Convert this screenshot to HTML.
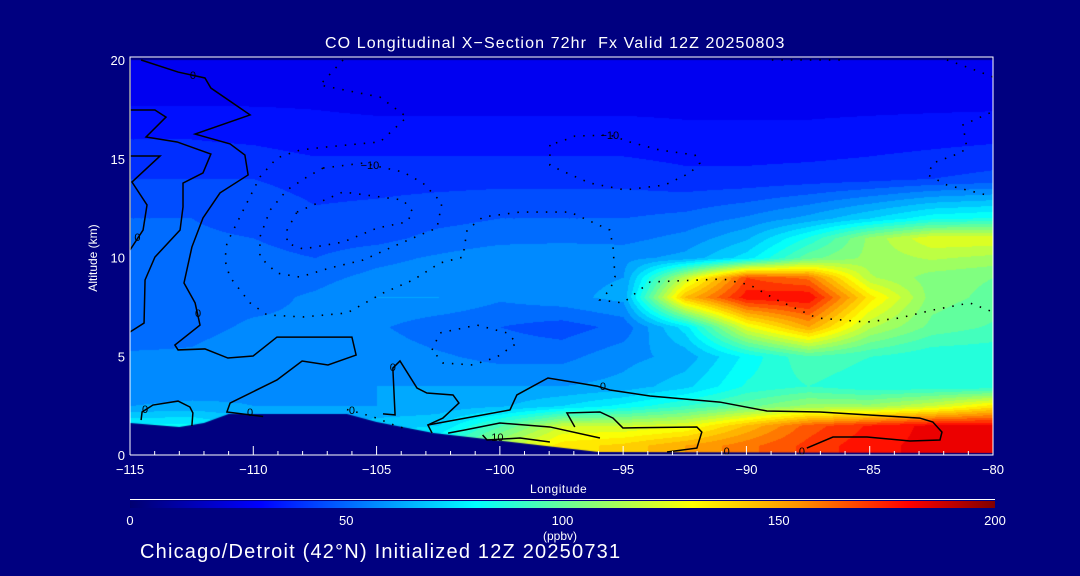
<!DOCTYPE html>
<html><head><meta charset="utf-8"><style>
html,body{margin:0;padding:0;background:#000080;}
#root{position:relative;width:1080px;height:576px;background:#000080;overflow:hidden;font-family:"Liberation Sans",sans-serif;color:#fff;}
.t{position:absolute;white-space:nowrap;color:#fff;}
canvas,svg{position:absolute;left:0;top:0;}
</style></head><body>
<div id="root">
<canvas id="cv" width="1080" height="576"></canvas>
<svg id="sv" width="1080" height="576"></svg>
<div class="t" style="left:325px;top:35px;font-size:16px;letter-spacing:1.1px;">CO Longitudinal X−Section 72hr&nbsp; Fx Valid 12Z 20250803</div>
<div class="t" style="left:53px;top:251px;font-size:12px;transform:rotate(-90deg);width:80px;text-align:center;">Altitude (km)</div>
<div class="t" style="left:530px;top:482px;font-size:12px;letter-spacing:0.5px;">Longitude</div>
<div style="position:absolute;left:130px;top:501px;width:865px;height:7px;background:linear-gradient(to right,#000070 0%,#0000ff 15%,#0080ff 27.5%,#00ffff 40%,#80ff80 52.5%,#ffff00 65%,#ff9000 77.5%,#ff0000 90%,#800000 100%);"></div>
<div style="position:absolute;left:130px;top:499px;width:865px;height:1px;background:#fff;"></div>
<div class="t" style="left:543px;top:529px;font-size:12px;">(ppbv)</div>
<div class="t" style="left:140px;top:541px;font-size:20px;letter-spacing:1.2px;">Chicago/Detroit (42°N) Initialized 12Z 20250731</div>
</div>
<script>
// ---- data ----
const lons=[-115,-112.5,-110,-107.5,-105,-102.5,-100,-97.5,-95,-92.5,-90,-87.5,-85,-82.5,-80];
const alts=[20,18,16,14,12,11,10,9,8,6.5,5,3.5,2.5,1.5,0.5];
const row20=[26,26,26,26,26,26,26,26,26,26,26,26,26,26,26];
const row18=[29,29,29,29,28,28,28,28,28,28,28,28,28,28,28];
const row16=[36,36,35,33,33,33,33,33,33,32,32,32,33,34,35];
const row14=[42,42,42,40,40,40,40,40,40,38,38,39,40,42,44];
const row12=[48,48,46,43,44,46,48,48,48,50,55,62,72,82,85];
const row11=[49,49,48,45,46,50,52,52,52,56,65,85,110,125,125];
const row10=[50,50,50,48,52,55,58,60,58,62,75,100,110,115,112];
const row9=[51,51,51,52,56,58,57,58,60,118,168,160,115,105,102];
const row8=[52,52,52,55,60,60,55,58,62,145,178,180,135,105,100];
const row65=[50,52,55,55,55,50,48,45,50,75,125,150,115,100,95];
const row5=[55,55,58,58,58,55,52,52,58,62,80,95,90,85,85];
const row35=[55,55,58,58,60,60,60,60,62,70,85,90,85,85,85];
const row25=[60,62,60,60,60,62,65,72,80,90,100,110,110,120,135];
const row15=[80,80,70,65,70,72,95,120,120,125,145,165,175,182,182];
const row05=[80,80,70,70,70,85,115,135,140,150,160,170,178,182,182];
const grid=[row20,row18,row16,row14,row12,row11,row10,row9,row8,row65,row5,row35,row25,row15,row05];
// terrain surface altitude (km)
const terrLon=[-115,-113,-112,-111,-106.2,-105,-102.7,-96,-80];
const terrAlt=[1.62,1.42,1.62,2.08,2.08,1.67,1.11,0.15,0.1];
const xTicks=[-115,-110,-105,-100,-95,-90,-85,-80];
const xTickLabels=["−115","−110","−105","−100","−95","−90","−85","−80"];
const yTicks=[0,5,10,15,20];
const cbTicks=[0,50,100,150,200];
// contour lines (lon, alt pairs)
const solid=[
 [[-115,20],[-115,10.4]],
 [[-114.55,20],[-113.05,19.39],[-111.96,19.09],[-111.72,18.58],[-110.13,17.22],[-112.36,16.25],[-110.94,15.75],[-110.34,15.19],[-110.21,14.18],[-111.35,13.27],[-112.04,12.0],[-112.49,10.53],[-112.81,8.71],[-112.36,7.7],[-112.16,6.58],[-113.18,5.57],[-113.05,5.32],[-111.96,5.37],[-111.03,4.91],[-110.01,5.01],[-109.04,5.97],[-106.0,5.97],[-105.83,5.06],[-106.97,4.56],[-108.02,4.76],[-109.04,3.8],[-110.94,2.63],[-111.07,2.18],[-109.6,1.95]],
 [[-115,15.14],[-113.78,15.14],[-114.92,13.82],[-114.31,12.66],[-114.47,11.39],[-115,10.38]],
 [[-115,17.47],[-113.99,17.47],[-113.54,17.11],[-114.35,16.1],[-113.09,15.85],[-111.72,15.24],[-112.04,14.28],[-112.85,13.77],[-112.85,12.56],[-112.97,11.39],[-113.99,10.02],[-114.39,8.86],[-114.43,6.68],[-115,6.23]],
 [[-114.55,1.77],[-114.51,2.18],[-114.07,2.53],[-113.05,2.73],[-112.57,2.43],[-112.45,2.13],[-112.49,1.47]],
 [[-104.74,2.08],[-104.25,2.03],[-104.34,4.4],[-104.05,4.76],[-103.36,3.39],[-102.96,3.14],[-101.9,3.04],[-101.66,2.63],[-102.31,1.87],[-102.92,1.52],[-102.75,1.11]],
 [[-102.92,1.52],[-99.59,2.28],[-99.31,3.04],[-98.05,3.9],[-96.06,3.49],[-95.54,3.29],[-93.91,2.99],[-91.08,2.68],[-89.17,2.23],[-87.02,2.18],[-82.97,1.87],[-82.44,1.67],[-82.07,1.16],[-82.15,0.76],[-83.37,0.71],[-85.11,0.91],[-86.49,0.91],[-87.55,0.35]],
 [[-96.96,1.42],[-97.28,2.13],[-95.94,2.18],[-95.41,1.87],[-95.01,1.37],[-92.01,1.42],[-91.81,1.16],[-92.01,0.35],[-93.22,0.15]],
 [[-102.1,1.11],[-101.4,1.27],[-100.0,1.62],[-97.97,1.42],[-95.94,0.86]],
 [[-100.7,1.01],[-100.52,0.76],[-99.18,0.86],[-97.97,0.66]]
];
const dotted=[
 [[-106.36,20],[-107.3,18.73],[-104.86,18.12],[-103.77,17.11],[-104.86,15.85],[-107.01,15.6],[-108.11,15.44],[-109.04,15.04],[-109.73,14.08],[-110.26,12.76],[-111.07,10.73],[-111.15,9.87],[-110.95,9.01],[-110.13,7.7],[-109.44,7.09],[-107.98,6.99],[-106.2,7.19],[-104.74,8.2],[-103.52,8.86],[-102.43,9.72],[-101.5,10.02],[-101.33,11.39],[-100.69,12.05],[-99.19,12.3],[-97.16,12.3],[-95.54,11.39],[-95.41,10.53],[-95.33,9.01],[-95.54,8.35],[-95.94,7.85],[-95.01,7.7],[-93.91,8.76],[-90.95,8.91],[-89.86,8.61],[-88.76,7.85],[-87.14,6.94],[-85.11,6.73],[-83.78,6.94],[-82.44,7.34],[-80.94,7.7],[-80,7.24]],
 [[-107.17,14.53],[-105.55,14.78],[-103.93,14.33],[-103.12,13.77],[-102.35,12.76],[-102.55,11.49],[-103.24,11.14],[-104.46,10.48],[-105.55,9.87],[-106.89,9.47],[-108.11,9.01],[-109.04,9.21],[-109.73,10.02],[-109.73,11.04],[-109.32,12.4],[-108.63,13.42],[-107.82,14.08],[-107.17,14.53]],
 [[-108.23,12.3],[-106.36,13.32],[-103.93,12.91],[-103.52,12.3],[-103.77,11.8],[-104.98,11.49],[-106.36,10.78],[-107.98,10.43],[-108.63,10.73],[-108.63,11.39],[-108.23,12.3]],
 [[-102.75,5.32],[-102.43,6.18],[-100.93,6.58],[-99.71,6.18],[-99.31,5.67],[-100.12,4.96],[-101.09,4.56],[-102.31,4.66],[-102.75,5.32]],
 [[-97.97,15.7],[-97.97,14.68],[-97.56,14.43],[-96.35,13.77],[-94.93,13.42],[-93.31,13.67],[-92.29,14.28],[-91.89,14.78],[-92.09,15.19],[-93.51,15.44],[-94.73,15.85],[-95.54,16.2],[-96.96,16.15],[-97.36,15.95],[-97.97,15.7]],
 [[-80.13,17.32],[-81.22,16.71],[-81.06,15.54],[-81.34,15.29],[-82.44,14.78],[-82.64,14.18],[-81.87,13.67],[-80.25,13.16]],
 [[-81.87,20],[-80.94,19.59],[-80,19.14]],
 [[-88.97,20],[-85.93,20]],
 [[-106.2,2.3],[-105.6,2.1],[-105.0,1.87],[-104.3,1.52],[-103.8,1.32]]
];
const labels0=[[-112.45,19.24,"0"],[-114.7,11.04,"0"],[-112.24,7.19,"0"],[-114.39,2.33,"0"],[-110.13,2.18,"0"],[-106.0,2.28,"0"],[-104.34,4.46,"0"],[-95.82,3.49,"0"],[-90.8,0.2,"0"],[-87.75,0.2,"0"]];
const labels10=[[-105.27,14.68,"−10"],[-95.54,16.2,"−10"],[-100.1,0.9,"10"]];

// ---- axes ----
const X0=130,X1=993,Y0=455,Y1=60;
const xs=lon=>X0+(lon+115)/35*(X1-X0);
const ys=a=>Y0-a/20*(Y0-Y1);
const stops=[[0,[0,0,112]],[30,[0,0,255]],[55,[0,128,255]],[80,[0,255,255]],[105,[128,255,128]],[130,[255,255,0]],[155,[255,144,0]],[180,[255,0,0]],[200,[128,0,0]]];
function cmap(v){v=Math.max(0,Math.min(200,v));for(let i=1;i<stops.length;i++){if(v<=stops[i][0]){const a=stops[i-1],b=stops[i],t=(v-a[0])/(b[0]-a[0]);return a[1].map((c,k)=>Math.round(c+(b[1][k]-c)*t));}}return stops[stops.length-1][1];}
function sample(lon,alt){
 let j=0;while(j<lons.length-2&&lon>lons[j+1])j++;
 let tx=(lon-lons[j])/(lons[j+1]-lons[j]);tx=Math.max(0,Math.min(1,tx));
 let i=0;while(i<alts.length-2&&alt<alts[i+1])i++;
 let ty=(alts[i]-alt)/(alts[i]-alts[i+1]);ty=Math.max(0,Math.min(1,ty));
 const a=grid[i][j],b=grid[i][j+1],c=grid[i+1][j],d=grid[i+1][j+1];
 return a*(1-tx)*(1-ty)+b*tx*(1-ty)+c*(1-tx)*ty+d*tx*ty;
}
const cv=document.getElementById('cv'),ctx=cv.getContext('2d');
const img=ctx.createImageData(X1-X0,Y0-Y1);
for(let py=0;py<Y0-Y1;py++){for(let px=0;px<X1-X0;px++){
 const lon=-115+px/(X1-X0)*35, alt=20-py/(Y0-Y1)*20;
 let v=sample(lon,alt); v=Math.floor(v/6)*6+3;
 const c=cmap(v),k=(py*(X1-X0)+px)*4;
 img.data[k]=c[0];img.data[k+1]=c[1];img.data[k+2]=c[2];img.data[k+3]=255;}}
ctx.putImageData(img,X0,Y1);
// terrain
ctx.fillStyle='#000080';ctx.beginPath();ctx.moveTo(xs(terrLon[0]),Y0);
terrLon.forEach((l,i)=>ctx.lineTo(xs(l),ys(terrAlt[i])));
ctx.lineTo(xs(terrLon[terrLon.length-1]),Y0+1);ctx.lineTo(X0,Y0+1);ctx.closePath();ctx.fill();

const NS='http://www.w3.org/2000/svg',sv=document.getElementById('sv');
function mk(tag,attrs){const e=document.createElementNS(NS,tag);for(const k in attrs)e.setAttribute(k,attrs[k]);sv.appendChild(e);return e;}
solid.forEach(line=>{const e=mk('polyline',{points:line.map(p=>xs(p[0])+','+ys(p[1])).join(' '),fill:'none',stroke:'#000','stroke-width':1.5});
 
 });
dotted.forEach(line=>{const e=mk('polyline',{points:line.map(p=>xs(p[0])+','+ys(p[1])).join(' '),fill:'none',stroke:'#000','stroke-width':1.6,'stroke-dasharray':'1.5 8'});
 
 });
labels0.concat(labels10).forEach(l=>{const e=mk('text',{x:xs(l[0]),y:ys(l[1])+4,'font-size':11,'font-family':'Liberation Sans, sans-serif',fill:'#000','text-anchor':'middle'});e.textContent=l[2];
 
 });
// frame
const fr=mk('polyline',{points:`${X0},${Y0} ${X0},57 ${X1},57 ${X1},${Y0} ${X0},${Y0}`,fill:'none',stroke:'#fff','stroke-width':1});


for(let l=-115;l<=-80;l++){const maj=(l%5===0);const e=mk('line',{x1:xs(l),x2:xs(l),y1:Y0,y2:Y0-(maj?9:4),stroke:'#fff','stroke-width':1});
 
 }
xTicks.forEach((l,i)=>{const e=mk('text',{x:xs(l),y:474,'font-size':13,'font-family':'Liberation Sans, sans-serif',fill:'#fff','text-anchor':'middle'});e.textContent=xTickLabels[i];
 
 });
yTicks.forEach(a=>{const e=mk('text',{x:125,y:ys(a)+5,'font-size':13,'font-family':'Liberation Sans, sans-serif',fill:'#fff','text-anchor':'end'});e.textContent=String(a);
 
 });
cbTicks.forEach(v=>{const e=mk('text',{x:130+v/200*865,y:525,'font-size':13,'font-family':'Liberation Sans, sans-serif',fill:'#fff','text-anchor':'middle'});e.textContent=String(v);
 
 });
</script>
</body></html>
